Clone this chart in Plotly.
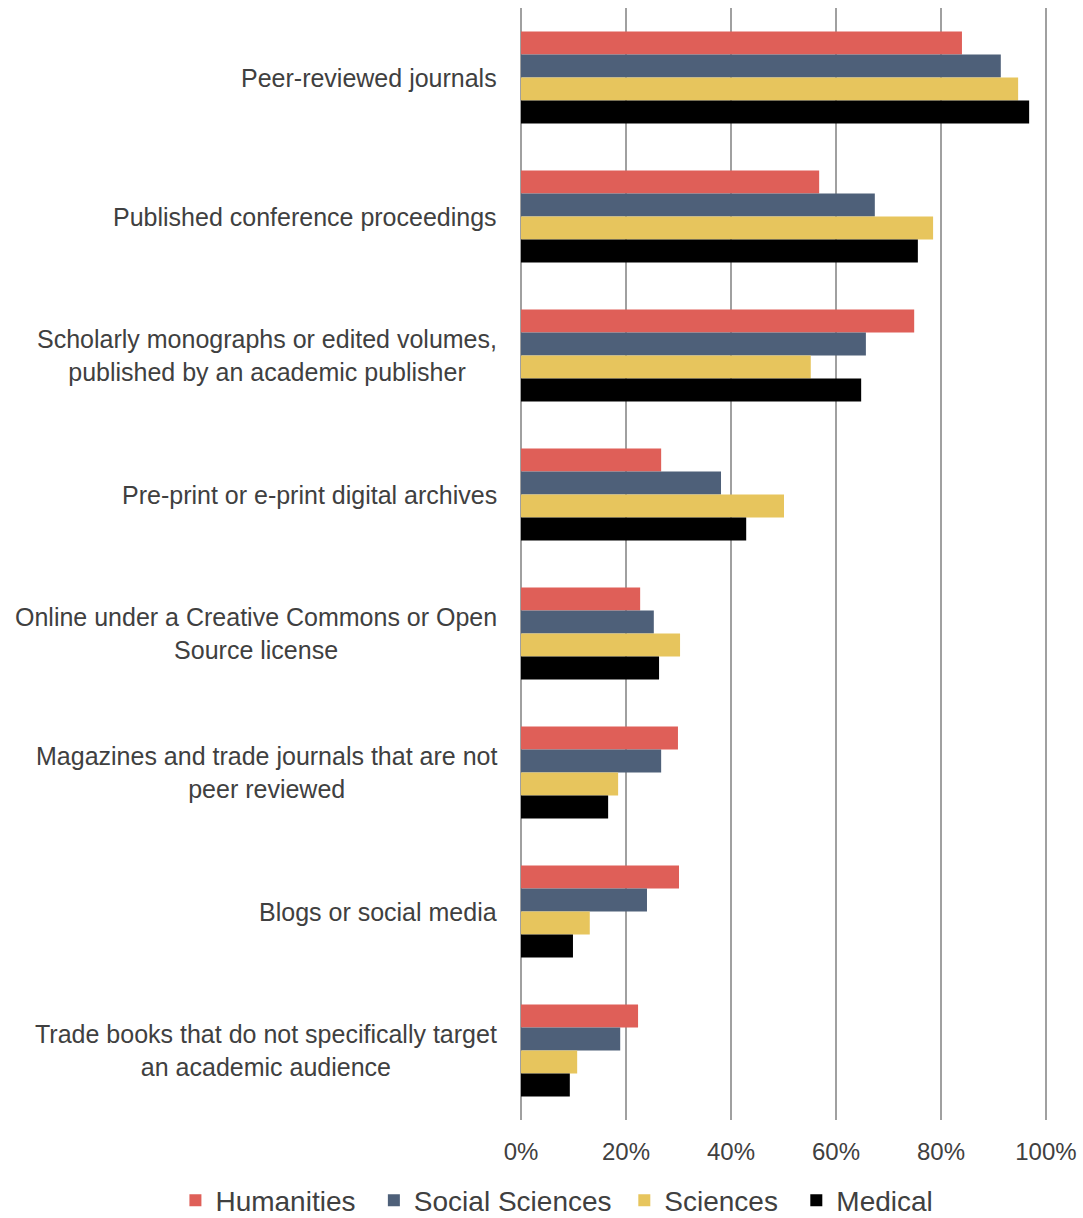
import plotly.graph_objects as go

categories = [
    "Peer-reviewed journals",
    "Published conference proceedings",
    "Scholarly monographs or edited volumes,<br>published by an academic publisher",
    "Pre-print or e-print digital archives",
    "Online under a Creative Commons or Open<br>Source license",
    "Magazines and trade journals that are not<br>peer reviewed",
    "Blogs or social media",
    "Trade books that do not specifically target<br>an academic audience",
]
series_names = ["Humanities", "Social Sciences", "Sciences", "Medical"]
humanities = [84.0, 56.8, 74.9, 26.7, 22.7, 29.9, 30.1, 22.3]
social_sciences = [91.4, 67.4, 65.7, 38.1, 25.3, 26.7, 24.0, 18.9]
sciences = [94.7, 78.5, 55.2, 50.1, 30.3, 18.5, 13.1, 10.7]
medical = [96.8, 75.6, 64.8, 42.9, 26.3, 16.6, 9.9, 9.3]
x_tick_vals = [0, 20, 40, 60, 80, 100]
x_tick_text = ["0%", "20%", "40%", "60%", "80%", "100%"]

colors = ["#DF5F58", "#4E6079", "#E7C55D", "#000000"]
values = [humanities, social_sciences, sciences, medical]
legend_pad = ["\u00a0\u2009", "\u00a0", "\u00a0\u2009", ""]
FONT = "Liberation Sans, Arial, Helvetica, sans-serif"
TXT = "#404040"
GRID = "#A0A0A0"

fig = go.Figure()
for name, vals, col, pad in zip(series_names, values, colors, legend_pad):
    fig.add_trace(go.Bar(
        y=list(range(len(categories))), x=vals, name=name + pad, orientation="h",
        marker=dict(color=col, line=dict(width=0)),
        hovertemplate=name + ": %{x}%<extra></extra>",
    ))

for i, cat in enumerate(categories):
    fig.add_annotation(
        x=0, xref="paper", y=i, yref="y", text=cat, showarrow=False,
        xanchor="right", yanchor="middle", align="center", xshift=-22,
        font=dict(family=FONT, size=25, color=TXT),
    )

fig.update_layout(
    width=1083, height=1218,
    margin=dict(l=521, r=36, t=8, b=98, autoexpand=False),
    paper_bgcolor="white", plot_bgcolor="white",
    barmode="group", bargap=0.338, bargroupgap=0,
    font=dict(family=FONT, size=24, color=TXT),
    xaxis=dict(
        range=[0, 100.2], tickvals=x_tick_vals, ticktext=x_tick_text,
        showgrid=True, gridcolor=GRID, gridwidth=2,
        zeroline=True, zerolinecolor=GRID, zerolinewidth=2,
        showline=False, ticks="", ticklen=0,
        ticklabelstandoff=15,
        tickfont=dict(family=FONT, size=24, color=TXT),
    ),
    yaxis=dict(
        range=[len(categories) - 0.5, -0.5], showticklabels=False,
        showgrid=False, zeroline=False, showline=False, ticks="",
    ),
    legend=dict(
        orientation="h", xref="paper", yref="paper",
        x=-0.657, xanchor="left", y=-0.0725, yanchor="middle",
        font=dict(family=FONT, size=28, color=TXT), itemwidth=30,
        traceorder="normal", bgcolor="rgba(0,0,0,0)",
    ),
    showlegend=True,
)

fig.write_html(
    "out.html",
    config={"displayModeBar": False},
    post_script="document.body.style.margin='0px'; document.body.style.overflow='hidden';",
)
